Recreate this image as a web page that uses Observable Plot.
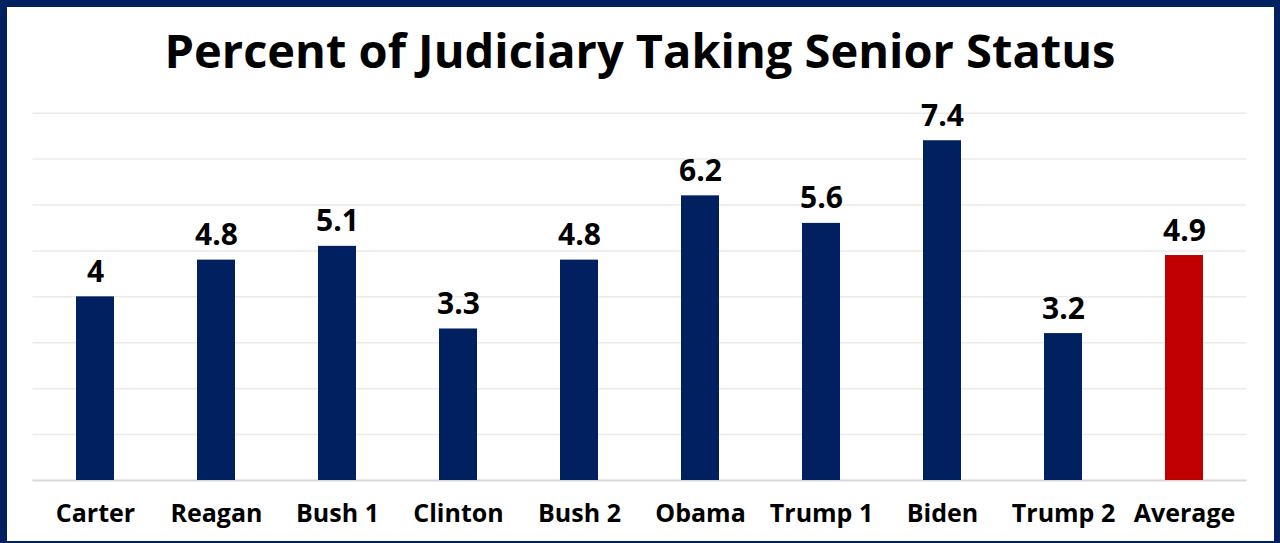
<!DOCTYPE html>
<html>
<head>
<meta charset="utf-8">
<script src="https://cdn.jsdelivr.net/npm/d3@7"></script>
<script src="https://cdn.jsdelivr.net/npm/@observablehq/plot@0.6"></script>
<style>
  html, body { margin: 0; padding: 0; background: #fff; }
  #wrap { position: relative; width: 1280px; height: 543px; overflow: hidden; background: #fff; font-family: "Open Sans", sans-serif; }
  #title { position: absolute; left: 0; top: 0; width: 1280px; height: 90px; text-align: center; font-weight: 700; font-size: 47px; line-height: 1; color: #000; }
  #title span { position: absolute; left: 0; right: 0; top: 27px; }
  #chart { position: absolute; left: 0; top: 90px; }
  #frame { position: absolute; left: 0; top: 0; width: 1280px; height: 543px; box-sizing: border-box; border-style: solid; border-color: #002060; border-width: 7px 6px 2px 7px; pointer-events: none; }
</style>
</head>
<body>
<div id="wrap">
  <div id="title"><span>Percent of Judiciary Taking Senior Status</span></div>
  <div id="chart"></div>
  <div id="frame"></div>
</div>
<script>
const presidents = ["Carter", "Reagan", "Bush 1", "Clinton", "Bush 2", "Obama", "Trump 1", "Biden", "Trump 2", "Average"];
const percents = [4, 4.8, 5.1, 3.3, 4.8, 6.2, 5.6, 7.4, 3.2, 4.9];
const yTicks = [0, 1, 2, 3, 4, 5, 6, 7, 8];
const highlight = "Average";

const data = presidents.map((p, i) => ({ president: p, value: percents[i] }));

const chart = Plot.plot({
  width: 1280,
  height: 453,
  marginTop: 22.7,
  marginBottom: 63,
  marginLeft: 32.5,
  marginRight: 33.6,
  style: { fontFamily: "'Open Sans', sans-serif", background: "transparent" },
  x: { domain: presidents, paddingInner: 0.687, paddingOuter: 0.3435, label: null },
  y: { domain: [0, 8], label: null },
  marks: [
    Plot.gridY(yTicks, { stroke: "#ebebeb", strokeOpacity: 1, strokeWidth: 1.5 }),
    Plot.ruleY([0], { stroke: "#d9d9d9", strokeWidth: 2 }),
    Plot.barY(data, { x: "president", y: "value", fill: d => d.president === highlight ? "#c00000" : "#002060" }),
    Plot.text(data, { x: "president", y: "value", text: d => String(d.value), lineAnchor: "bottom", dy: -15, fontSize: 30, fontWeight: 700, fill: "#000" }),
    Plot.axisX({ tickSize: 0, tickPadding: 24, fontSize: 25, fontWeight: 700, color: "#000", label: null }),
    Plot.axisY({ ticks: [], label: null })
  ]
});
chart.querySelectorAll("g[aria-label='x-axis tick label'] text").forEach(t => t.setAttribute("fill", "#000"));
document.getElementById("chart").appendChild(chart);
</script>
</body>
</html>
